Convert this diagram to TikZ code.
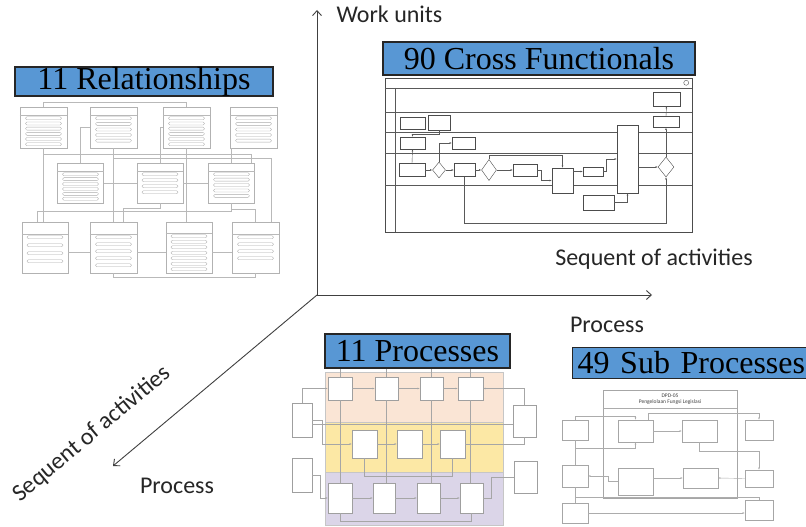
\documentclass[tikz,border=0pt]{standalone}
\usepackage{fontspec}
\setmainfont{Carlito}
\newfontfamily\titlefont{Liberation Serif}
\usetikzlibrary{arrows,arrows.meta,positioning,calc,shapes.geometric}

\definecolor{titleblue}{RGB}{88,151,212}
\definecolor{peachband}{RGB}{250,229,213}
\definecolor{yellowband}{RGB}{252,232,165}
\definecolor{lilacband}{RGB}{219,213,232}

\begin{document}
\begin{tikzpicture}[x=1pt,y=-1pt,
  title/.style={draw=black!85, line width=1.1pt, fill=titleblue, inner sep=0pt, font=\titlefont\fontsize{32}{32}\selectfont},
  axis/.style={draw=black!75, line width=0.9pt, -{Straight Barb[length=5pt,width=9pt]}},
  axislabel/.style={font=\fontsize{24}{24}\selectfont, text=black!85},
  relbox/.style={rectangle, draw=gray!60, fill=white, line width=0.5pt, inner sep=0pt},
  reloval/.style={draw=gray!65, line width=0.35pt, rounded corners=1.4pt},
  rline/.style={draw=gray!55, line width=0.45pt},
  cfbox/.style={rectangle, draw=black!70, fill=white, line width=0.4pt, inner sep=0pt},
  cfdiam/.style={diamond, draw=black!70, fill=white, line width=0.4pt, inner sep=0pt},
  cfline/.style={draw=black!65, line width=0.4pt},
  smallarrow/.style={-{Latex[length=2.2pt,width=1.8pt]}},
  band/.style={rectangle, draw=gray!45, line width=0.4pt, inner sep=0pt},
  prbox/.style={rectangle, draw=gray!75, fill=white, line width=0.45pt, inner sep=0pt},
  prline/.style={draw=gray!70, line width=0.4pt},
  spbox/.style={rectangle, draw=gray!70, fill=white, line width=0.45pt, inner sep=0pt},
  spline/.style={draw=gray!65, line width=0.4pt}]

  \useasboundingbox (0,0) rectangle (806,527);
  \fill[white] (0,0) rectangle (806,527);

  % relationships thumbnail
  \node (rA) [relbox, minimum width=47, minimum height=41] at (43.5,127.5) {};
  \node (rB) [relbox, minimum width=47, minimum height=41] at (113.5,127.5) {};
  \node (rC) [relbox, minimum width=47, minimum height=41] at (186.5,127.5) {};
  \node (rD) [relbox, minimum width=47, minimum height=41] at (253.5,127.5) {};
  \node (rE) [relbox, minimum width=46, minimum height=40] at (80.5,183) {};
  \node (rF) [relbox, minimum width=46, minimum height=40] at (160,183) {};
  \node (rG) [relbox, minimum width=46, minimum height=40] at (231.5,183) {};
  \node (rH) [relbox, minimum width=46, minimum height=51] at (45,247.5) {};
  \node (rI) [relbox, minimum width=47, minimum height=51] at (113.5,247.5) {};
  \node (rJ) [relbox, minimum width=46, minimum height=51] at (189,247.5) {};
  \node (rK) [relbox, minimum width=47, minimum height=51] at (255.5,247.5) {};

  \foreach \b/\cnt/\hd/\gap in {rA/6/8/5.2, rB/5/8/5.6, rC/6/8/5.2, rD/5/8/5.6, rE/6/8/4.9, rF/4/8/6,
                               rG/5/8/5.4, rH/4/12/8, rI/5/12/7, rJ/7/11/5.5, rK/4/12/7} {
    \draw[rline] ($(\b.north west)+(0,\hd)$) -- ($(\b.north east)+(0,\hd)$);
    \foreach \k in {1,...,\cnt}
      \draw[reloval] ($(\b.north)+(-18,\hd+2+\gap*\k-\gap)$) rectangle ++(36,3);
  }

  \draw[rline] (rA.north) -- ++(0,-5) -| (rC.north);
  \draw[rline] (rA.south) -- (rA.south |- rH.north);
  \draw[rline] (rB.south) -- (rI.north);
  \draw[rline] (rC.south) -- (rC.south |- rJ.north);
  \draw[rline] (rE.north) |- (rB.west);
  \draw[rline] (rF.north) |- (rC.west);
  \draw[rline] (rG.north) -- (rG.north |- rD.south);
  \draw[rline] (rG.south) -- ++(0,6) -| (rK.north);
  \draw[rline] (rE.east) -- (rF.west);
  \draw[rline] (rF.east) -- (rG.west);
  \draw[rline] ($(rH.east)+(0,5)$) -- ($(rI.west)+(0,5)$);
  \draw[rline] ($(rI.east)+(0,5)$) -- ($(rJ.west)+(0,5)$);
  \draw[rline] ($(rJ.east)+(0,5)$) -- ($(rK.west)+(0,5)$);
  \draw[rline] (rI.south) -- ++(0,4) -| (rK.south);
  \draw[rline] ($(rA.south)+(0,6)$) -| ($(rG.north east)+(-4,0)$);
  \draw[rline] ($(rB.south)+(0,10)$) -| ($(rK.north east)+(-8,0)$);
  \draw[rline] ($(rH.north)+(-8,0)$) |- ($(rG.south)+(0,8)$) -- (rG.south);
  \draw[rline] ($(rI.north)+(10,0)$) |- ($(rF.south)+(0,5)$) -- (rF.south);

  % cross functional thumbnail
  \node (cf) [cfbox, minimum width=307, minimum height=154] at (538.5,155) {};
  \foreach \y in {10,34,54,75,107}
    \draw[cfline] ($(cf.north west)+(0,\y)$) -- ($(cf.north east)+(0,\y)$);
  \draw[cfline] ($(cf.north west)+(10,10)$) -- ($(cf.south west)+(10,0)$);
  \draw[cfline] ($(cf.north east)+(-6,5)$) circle (2.5);

  \node (cf1) [cfbox, minimum width=25, minimum height=12] at (412.5,123) {};
  \node (cf2) [cfbox, minimum width=22, minimum height=15] at (439,122.5) {};
  \node (cf3) [cfbox, minimum width=25, minimum height=12] at (412.5,143) {};
  \node (cf4) [cfbox, minimum width=23, minimum height=12] at (463.5,143) {};
  \node (cf5) [cfbox, minimum width=26, minimum height=13] at (412,170) {};
  \node (d1) [cfdiam, minimum width=13, minimum height=16] at (439,170) {};
  \node (cf6) [cfbox, minimum width=21, minimum height=13] at (464.5,170) {};
  \node (d2) [cfdiam, minimum width=15, minimum height=21] at (489,170) {};
  \node (cf7) [cfbox, minimum width=24, minimum height=12] at (525,170) {};
  \node (cf8) [cfbox, minimum width=21, minimum height=25] at (562.5,180.5) {};
  \node (cf9) [cfbox, minimum width=20, minimum height=9] at (593,171.5) {};
  \node (cf10) [cfbox, minimum width=21, minimum height=68] at (627.5,159) {};
  \node (d3) [cfdiam, minimum width=16, minimum height=20] at (666,167) {};
  \node (cf11) [cfbox, minimum width=26, minimum height=11] at (666,122) {};
  \node (cf12) [cfbox, minimum width=27, minimum height=14] at (666.5,99) {};
  \node (cf13) [cfbox, minimum width=31, minimum height=15] at (598.5,202.5) {};

  \draw[cfline, smallarrow] (cf5.east) -- (d1.west);
  \draw[cfline, smallarrow] (d1.east) -- (cf6.west);
  \draw[cfline, smallarrow] (cf6.east) -- (d2.west);
  \draw[cfline, smallarrow] (d2.east) -- (cf7.west);
  \draw[cfline, smallarrow] (cf7.east) -- ++(4,0) |- (cf8.west);
  \draw[cfline, smallarrow] (cf8.east |- cf9.west) -- (cf9.west);
  \draw[cfline, smallarrow] (cf9.east) -- ++(3,0) |- (cf10.west);
  \draw[cfline, smallarrow] (cf10.east |- d3.west) -- (d3.west);
  \draw[cfline, smallarrow] (d3.north) -- (cf11.south);
  \draw[cfline, smallarrow] (cf11.north) -- (cf12.south);
  \draw[cfline, smallarrow] (d1.north) |- (cf4.west);
  \draw[cfline, smallarrow] (cf5.north) -- (cf3.south);
  \draw[cfline, smallarrow] (cf2.south) -- ++(0,4) -| (cf3.north);
  \draw[cfline, smallarrow] (d2.north) -- ++(0,-4) -| (cf8.north);
  \draw[cfline, smallarrow] (cf13.east) -| (cf10.south);
  \draw[cfline, smallarrow] (cf6.south) -- ++(0,46) -| (d3.south);

  % processes thumbnail
  \node (peach) [band, fill=peachband, minimum width=178, minimum height=50] at (414,397) {};
  \node (yellow) [band, fill=yellowband, minimum width=178, minimum height=50] at (414,447) {};
  \node (lilac) [band, fill=lilacband, minimum width=178, minimum height=53] at (414,498.5) {};

  \node (p1) [prbox, minimum width=24, minimum height=23] at (340,388.5) {};
  \node (p2) [prbox, minimum width=23, minimum height=23] at (386.5,388.5) {};
  \node (p3) [prbox, minimum width=23, minimum height=23] at (431.5,388.5) {};
  \node (p4) [prbox, minimum width=25, minimum height=23] at (470.5,388.5) {};
  \node (m1) [prbox, minimum width=25, minimum height=28] at (364.5,444) {};
  \node (m2) [prbox, minimum width=25, minimum height=28] at (409.5,444) {};
  \node (m3) [prbox, minimum width=25, minimum height=28] at (452.5,444) {};
  \node (b1) [prbox, minimum width=24, minimum height=30] at (340,498) {};
  \node (b2) [prbox, minimum width=22, minimum height=30] at (384,498) {};
  \node (b3) [prbox, minimum width=23, minimum height=30] at (428.5,498) {};
  \node (b4) [prbox, minimum width=23, minimum height=30] at (471.5,498) {};
  \node (sL1) [prbox, minimum width=20, minimum height=34] at (302,420) {};
  \node (sL2) [prbox, minimum width=20, minimum height=34] at (302,475) {};
  \node (sR1) [prbox, minimum width=23, minimum height=32] at (524.5,421) {};
  \node (sR2) [prbox, minimum width=23, minimum height=32] at (525.5,477) {};

  \foreach \p in {p1,p2,p3,p4}
    \draw[prline] (\p.north) -- ++(0,-8);
  \draw[prline] (p1.south) -- (b1.north);
  \draw[prline] (p2.south) -- (p2.south |- b2.north);
  \draw[prline] (p3.south) -- (p3.south |- b3.north);
  \draw[prline] (p4.south) -- (p4.south |- b4.north);
  \draw[prline, smallarrow] (sL1.north) |- (p1.west);
  \draw[prline, smallarrow] (sR1.north) |- (p4.east);
  \draw[prline, smallarrow] (p1.east) -- (p2.west);
  \draw[prline, smallarrow] (p2.east) -- (p3.west);
  \draw[prline, smallarrow] (p3.east) -- (p4.west);
  \draw[prline] ($(sL1.east)+(0,4)$) -- ($(sL1.east -| sR1.west)+(0,4)$);
  \draw[prline, smallarrow] (sL1.east) -- ++(10,0) |- (m1.west);
  \draw[prline, smallarrow] (m1.east) -- (m2.west);
  \draw[prline, smallarrow] (m2.east) -- (m3.west);
  \draw[prline] (m3.east) -| (sR1.south);
  \draw[prline] (m1.south) -- ++(0,18) -| (m3.south);
  \draw[prline, smallarrow] (sL2.east) -- ++(8,0) |- (b1.west);
  \draw[prline, smallarrow] (b1.east) -- (b2.west);
  \draw[prline, smallarrow] (b2.east) -- (b3.west);
  \draw[prline, smallarrow] (b3.east) -- (b4.west);
  \draw[prline] (b4.east) -- ++(8,0) |- (sR2.west);
  \draw[prline] (b1.south) -- ++(0,8) -| (b4.south);

  % sub processes thumbnail
  \node (spFrame) [spbox, minimum width=134, minimum height=108] at (670,444) {};
  \draw[spline] ($(spFrame.north west)+(0,18)$) -- ($(spFrame.north east)+(0,18)$);
  \node (spHead) [align=center, inner sep=0pt, text=black!75, font=\fontsize{5.5}{6.5}\selectfont] at (670,399) {DPD-05\\Pengelolaan Fungsi Legislasi};

  \node (s1) [spbox, minimum width=35, minimum height=22] at (635.5,431) {};
  \node (s2) [spbox, minimum width=35, minimum height=22] at (699.5,431) {};
  \node (s3) [spbox, minimum width=35, minimum height=27] at (635.5,481.5) {};
  \node (s4) [spbox, minimum width=35, minimum height=20] at (700.5,478) {};
  \node (l1) [spbox, minimum width=26, minimum height=20] at (575,430) {};
  \node (l2) [spbox, minimum width=26, minimum height=22] at (575,476) {};
  \node (l3) [spbox, minimum width=26, minimum height=20] at (575,513) {};
  \node (r1) [spbox, minimum width=28, minimum height=20] at (759,430) {};
  \node (r2) [spbox, minimum width=28, minimum height=17] at (759,478.5) {};
  \node (r3) [spbox, minimum width=28, minimum height=20] at (759,510) {};

  \draw[spline, smallarrow] (l1.north) -- ++(0,-4) -| (s1.north);
  \draw[spline, smallarrow] ($(s1.north east)+(-5,0)$) -- ++(0,-7) -| (r1.north);
  \draw[spline, smallarrow] (s1.east) -- (s2.west);
  \draw[spline] (l1.south) -- (l2.north);
  \draw[spline] (l2.south) -- (l3.north);
  \draw[spline, smallarrow] (l1.south) -- ++(0,8) -| (s1.south);
  \draw[spline, smallarrow] (s2.south) -- ++(0,9) -| (r2.north);
  \draw[spline, smallarrow] (r2.west) -- (s4.east);
  \draw[spline, smallarrow] (s3.east |- s4.west) -- (s4.west);
  \draw[spline, smallarrow] (s3.west) -- ++(-10,0) |- (l2.east);
  \draw[spline, smallarrow] (l3.east) -- (l3.east -| r3.west);
  \draw[spline] (l3.north) -- ++(0,-6) -| (r3.north);

  % axes
  \coordinate (origin) at (317,295);
  \coordinate (wuEnd) at (317,10);
  \coordinate (saEnd) at (652,295);
  \coordinate (prEnd) at (113,466);
  \draw[axis] (origin) -- (wuEnd);
  \draw[axis] (origin) -- (saEnd);
  \draw[axis] (origin) -- (prEnd);

  \node (wu) [axislabel, anchor=west] at (333,14) {Work units};
  \node (seqRight) [axislabel] at (654,259) {Sequent of activities};
  \node (procRight) [axislabel] at (607,325) {Process};
  \node (procLeft) [axislabel] at (177,486) {Process};
  \node (seqLeft) [axislabel, rotate=40] at (92,434) {Sequent of activities};

  % titles
  \node (relTitle) [title, minimum width=258, minimum height=29] at (144,81.5) {11 Relationships};
  \node (cfTitle) [title, minimum width=312, minimum height=33] at (539,58.5) {90 Cross Functionals};
  \node (prTitle) [title, minimum width=185, minimum height=34] at (417.5,351) {11 Processes};
  \node (spTitle) [title, anchor=west, inner xsep=5pt, text width=230, align=left, minimum height=31] at (572,363) {49 Sub Processes};
\end{tikzpicture}
\end{document}
